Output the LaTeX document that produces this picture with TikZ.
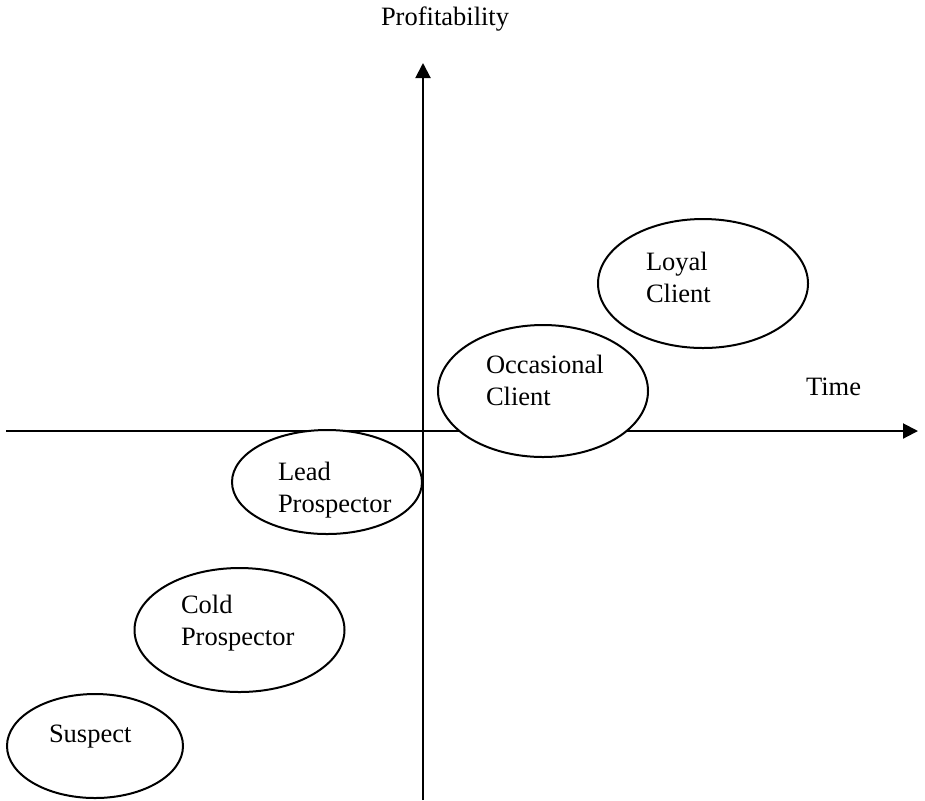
\documentclass[tikz,border=0pt]{standalone}
\usepackage{fontspec}
\setmainfont{Liberation Serif}
\usetikzlibrary{positioning}
\usetikzlibrary{shapes}
\usetikzlibrary{arrows.meta}
\tikzset{stage/.style={ellipse,draw,fill=white,line width=1pt,inner sep=0pt}}
\tikzset{lbl/.style={anchor=base west,align=left,inner sep=0pt,font=\fontsize{13.25}{16}\selectfont}}
\begin{document}
\begin{tikzpicture}[x=0.5pt,y=-0.5pt,line width=1pt]
\useasboundingbox (0,0) rectangle (925,800);
\coordinate (Yfoot) at (423,800);
\coordinate (Ytip) at (423,63);
\coordinate (Xfoot) at (6,431);
\coordinate (Xtip) at (918,431);
\draw[-{Triangle[length=7.5pt,width=7.5pt]}] (Yfoot) -- (Ytip);
\draw[-{Triangle[length=7.5pt,width=7.5pt]}] (Xfoot) -- (Xtip);
\node[lbl] (Prof) at (380,25) {Profitability};
\node[lbl] (Time) at (805,395) {Time};
%
\node[stage,minimum width=105pt,minimum height=64.5pt] (Loyal) at (703,283.5) {};
\node[stage,minimum width=105pt,minimum height=66pt] (Occ) at (543,391) {};
\node[stage,minimum width=95pt,minimum height=52pt] (Lead) at (327,482) {};
\node[stage,minimum width=105pt,minimum height=62pt] (Cold) at (239.5,630) {};
\node[stage,minimum width=88pt,minimum height=52pt] (Susp) at (95,746) {};
%
% base of a two-line label is the baseline of its last line
\node[lbl] (LoyalT) at (645,302) {Loyal\\Client};
\node[lbl] (OccT) at (485,405) {Occasional\\Client};
\node[lbl] (LeadT) at (277,512) {Lead\\Prospector};
\node[lbl] (ColdT) at (180,645) {Cold\\Prospector};
\node[lbl] (SuspT) at (48,742) {Suspect};
\end{tikzpicture}
\end{document}
